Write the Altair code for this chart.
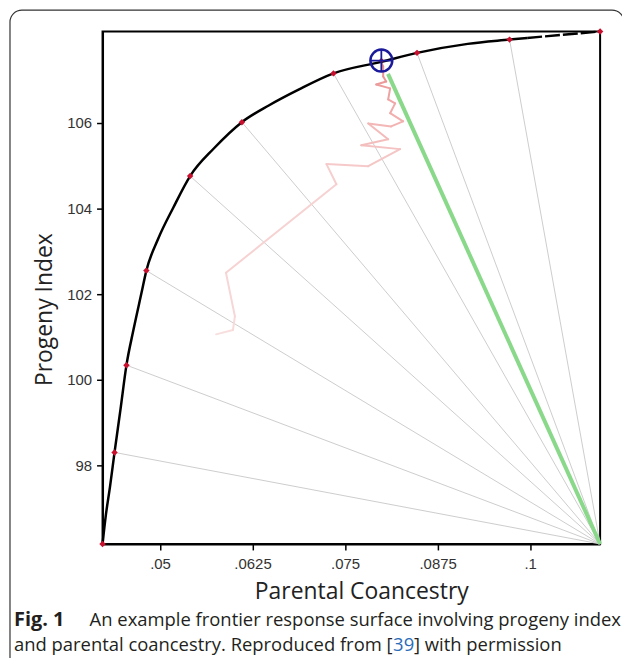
import altair as alt
import pandas as pd

# ---------------- data ----------------
frontier_x = [0.04224, 0.04270, 0.04325, 0.04386, 0.04466, 0.04547, 0.04641, 0.04749,
              0.04816, 0.04977, 0.05179, 0.05407, 0.05730, 0.06106, 0.06469, 0.06872,
              0.07343, 0.07988, 0.08472, 0.09157, 0.09722, 0.09960]
frontier_y = [96.16, 96.85, 97.50, 98.30, 99.30, 100.34, 101.16, 102.02,
              102.55, 103.30, 104.02, 104.76, 105.41, 106.02, 106.41, 106.78,
              107.16, 107.43, 107.64, 107.85, 107.95, 107.99]
tail_x = [0.09960, 0.10367, 0.10945]
tail_y = [107.99, 108.05, 108.14]

red_x = [0.04224, 0.04386, 0.04547, 0.04816, 0.05407, 0.06106, 0.07343, 0.08472, 0.09722, 0.10945]
red_y = [96.16, 98.30, 100.34, 102.55, 104.76, 106.02, 107.16, 107.64, 107.95, 108.14]

corner_x = 0.10945
corner_y = 96.16

path_x = [0.05757, 0.05985, 0.06012, 0.05891, 0.07383, 0.07249, 0.07813, 0.08243,
          0.07719, 0.08082, 0.07813, 0.08122, 0.08284, 0.08109, 0.08176, 0.08082,
          0.08109, 0.07921, 0.08055, 0.08015, 0.08015, 0.07988]
path_y = [101.06, 101.16, 101.48, 102.50, 104.57, 105.04, 104.99, 105.39,
          105.48, 105.62, 105.99, 105.92, 106.04, 106.23, 106.46, 106.55,
          106.81, 106.90, 106.97, 107.09, 107.32, 107.43]

sel_x = 0.0799
sel_y = 107.46
green_end_x = 0.0808
green_end_y = 107.15

X_DOMAIN = [0.04224, 0.10945]
Y_DOMAIN = [96.16, 108.14]
x_ticks = [0.05, 0.0625, 0.075, 0.0875, 0.1]
y_ticks = [98, 100, 102, 104, 106]

x_title = "Parental Coancestry"
y_title = "Progeny Index"
cap_bold = "Fig. 1"
cap_line1 = "An example frontier response surface involving progeny index"
cap_line2a = "and parental coancestry. Reproduced from ["
cap_ref = "39"
cap_line2b = "] with permission"

# ---------------- tables ----------------
frontier = pd.DataFrame({"x": frontier_x, "y": frontier_y, "i": range(len(frontier_x))})
tail = pd.DataFrame({"x": tail_x, "y": tail_y, "i": range(len(tail_x))})
reds = pd.DataFrame({"x": red_x, "y": red_y})
rays = pd.DataFrame({"x": red_x[1:-1], "y": red_y[1:-1],
                     "cx": [corner_x] * (len(red_x) - 2), "cy": [corner_y] * (len(red_x) - 2)})
segs = pd.DataFrame({"x": path_x[:-1], "y": path_y[:-1], "x2": path_x[1:], "y2": path_y[1:],
                     "i": range(len(path_x) - 1)})
green = pd.DataFrame({"x": [green_end_x], "y": [green_end_y], "cx": [corner_x], "cy": [corner_y]})
sel = pd.DataFrame({"x": [sel_x], "y": [sel_y]})
one = pd.DataFrame({"t": [""]})

xs = alt.Scale(domain=X_DOMAIN, nice=False, zero=False)
ys = alt.Scale(domain=Y_DOMAIN, nice=False, zero=False)

x_axis = alt.Axis(values=x_ticks, labelExpr="substring(format(datum.value, '.4~f'), 1)",
                  title=x_title, grid=False, titleX=260, titleY=55,
                  titleBaseline="alphabetic", labelPadding=7)
y_axis = alt.Axis(values=y_ticks, title=y_title, grid=False, titleX=-51, titleY=279,
                  titleBaseline="alphabetic", labelPadding=5)


def X(f="x"):
    return alt.X(f, type="quantitative", scale=xs, axis=x_axis)


def Y(f="y"):
    return alt.Y(f, type="quantitative", scale=ys, axis=y_axis)


ray_layer = alt.Chart(rays).mark_rule(color="#cdcdcd", strokeWidth=1).encode(
    x=X(), y=Y(), x2="cx", y2="cy")

path_layer = alt.Chart(segs).mark_rule(strokeWidth=2, strokeCap="round").encode(
    x=X(), y=Y(), x2="x2", y2="y2",
    color=alt.Color("i:Q", scale=alt.Scale(domain=[0, len(path_x) - 2],
                                           range=["#f8dede", "#e98f8f"]), legend=None))

green_layer = alt.Chart(green).mark_rule(color="#8ad88a", strokeWidth=4).encode(
    x=X(), y=Y(), x2="cx", y2="cy")

front_layer = alt.Chart(frontier).mark_line(color="black", strokeWidth=2.5, interpolate="monotone").encode(
    x=X(), y=Y(), order="i:Q")

tail_layer = alt.Chart(tail).mark_line(color="black", strokeWidth=2.5, strokeDash=[15, 3]).encode(
    x=X(), y=Y(), order="i:Q")

red_layer = alt.Chart(reds).mark_point(shape="diamond", filled=True, color="#c8102e", size=42, opacity=1).encode(
    x=X(), y=Y())

sel_dot = alt.Chart(sel).mark_point(shape="diamond", filled=True, color="#c8102e", size=30, opacity=1).encode(
    x=X(), y=Y())

sel_circle = alt.Chart(sel).mark_point(shape="circle", filled=False, color="#1a1a9a", size=484,
                                       strokeWidth=2.5, opacity=1).encode(x=X(), y=Y())

sel_cross = alt.Chart(sel).mark_point(shape="M-1,0H1M0,-1V1", filled=False, color="#1a1a9a", size=484,
                                      strokeWidth=1.8, opacity=1).encode(x=X(), y=Y())

border = alt.Chart(one).mark_rect(fill="transparent", stroke="#333333", strokeWidth=1.2,
                                  cornerRadius=12).encode(
    x=alt.value(-93), x2=alt.value(524), y=alt.value(-21.5), y2=alt.value(645))

cap_font = "Open Sans"
cap_size = 18.5


def cap(text, x, y, bold=False, color="#231f20", size=cap_size):
    return alt.Chart(pd.DataFrame({"t": [text]})).mark_text(
        align="left", baseline="alphabetic", font=cap_font, fontSize=size,
        fontWeight="bold" if bold else "normal", color=color).encode(
        text="t:N", x=alt.value(x), y=alt.value(y))


caption = [
    cap(cap_bold, -89, 597, bold=True, size=20),
    cap(cap_line1, -13, 597),
    cap(cap_line2a, -89, 623),
    cap(cap_ref, 292, 623, color="#2b6cb8"),
    cap(cap_line2b, 313, 623),
]

chart = alt.layer(
    border, ray_layer, path_layer, green_layer, front_layer, tail_layer, red_layer,
    sel_dot, sel_circle, sel_cross, *caption
).properties(
    width=500, height=515, autosize="none",
    padding={"left": 95, "top": 22, "right": 22, "bottom": 113},
).configure_view(
    stroke="black", strokeWidth=2
).configure_axis(
    domainColor="black", domainWidth=2, tickColor="black", tickWidth=1.5, tickSize=6,
    labelFont="Liberation Sans", labelFontSize=15, labelColor="#333333",
    titleFont="Open Sans", titleFontSize=23, titleFontWeight="normal", titleColor="#222222",
)

chart.save("out.html", embed_options={"renderer": "svg", "actions": False})
